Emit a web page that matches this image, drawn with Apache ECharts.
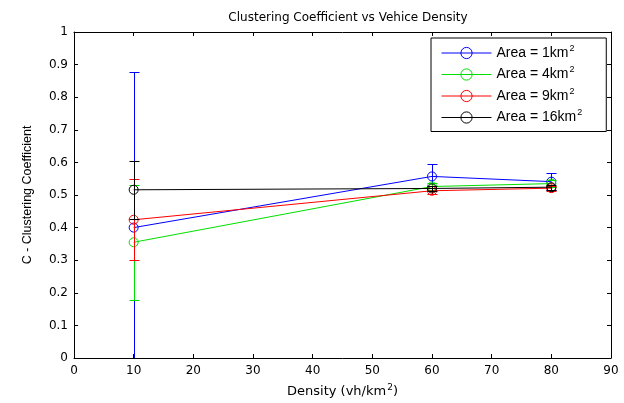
<!DOCTYPE html>
<html><head><meta charset="utf-8">
<script src="https://cdn.jsdelivr.net/npm/echarts@6/dist/echarts.min.js"></script>
<style>html,body{margin:0;padding:0;background:#fff}#c{width:624px;height:403px}</style>
</head><body><div id="c"></div>
<script>
const density = [10, 60, 80];
const area1 = [0.400, 0.557, 0.541];
const area4 = [0.355, 0.526, 0.535];
const area9 = [0.424, 0.513, 0.521];
const area16 = [0.516, 0.520, 0.524];
const err1 = [0.478, 0.037, 0.025];
const err4 = [0.177, 0.010, 0.010];
const err9 = [0.124, 0.010, 0.008];
const err16 = [0.089, 0.008, 0.008];
const names = ['Area = 1km{sup|2}', 'Area = 4km{sup|2}', 'Area = 9km{sup|2}', 'Area = 16km{sup|2}'];
const colors = ['#0000ff', '#00e000', '#ff0000', '#000000'];
const yTicks = [0, 0.1, 0.2, 0.3, 0.4, 0.5, 0.6, 0.7, 0.8, 0.9, 1];
const xTicks = [0, 10, 20, 30, 40, 50, 60, 70, 80, 90];

const vals = [area1, area4, area9, area16];
const errs = [err1, err4, err9, err16];
const font = 'Liberation Sans, Arial, sans-serif';
const wfont = 'DejaVu Sans, sans-serif';

const series = [];
vals.forEach((v, i) => {
  series.push({
    type: 'custom', name: names[i] + '_err', silent: true, clip: true, z: 2 + i,
    renderItem: function (params, api) {
      const x = api.value(0), lo = api.value(1), hi = api.value(2);
      const p1 = api.coord([x, hi]), p2 = api.coord([x, lo]);
      const px = Math.round(p1[0]) + 0.5;
      const y1 = Math.round(p1[1]) + 0.5, y2 = Math.round(p2[1]) + 0.5;
      const c = 5;
      const st = { stroke: colors[i], lineWidth: 1, fill: null };
      return { type: 'group', children: [
        { type: 'line', shape: { x1: px, y1: y1, x2: px, y2: y2 }, style: st },
        { type: 'line', shape: { x1: px - c, y1: y1, x2: px + c, y2: y1 }, style: st },
        { type: 'line', shape: { x1: px - c, y1: y2, x2: px + c, y2: y2 }, style: st }
      ]};
    },
    data: density.map((d, k) => [d, v[k] - errs[i][k], v[k] + errs[i][k]])
  });
  series.push({
    type: 'line', name: names[i], z: 2 + i,
    data: density.map((d, k) => [d, v[k]]),
    symbol: 'circle', symbolSize: 9,
    lineStyle: { color: colors[i], width: 1 },
    itemStyle: { color: 'rgba(255,255,255,0)', borderColor: colors[i], borderWidth: 1 },
    emphasis: { disabled: true }, animation: false
  });
});

const axisBase = {
  axisLine: { show: true, onZero: false, lineStyle: { color: '#000', width: 1 } },
  axisTick: { show: true, inside: true, length: 4, lineStyle: { color: '#000' } },
  splitLine: { show: false }
};

const chart = echarts.init(document.getElementById('c'), null, { renderer: 'canvas' });
chart.setOption({
  animation: false,
  backgroundColor: '#fff',
  title: { text: 'Clustering Coefficient vs Vehice Density', left: 343, textAlign: 'center', top: 7,
    textStyle: { fontFamily: wfont, fontSize: 12, fontWeight: 'normal', color: '#000' } },
  grid: { left: 74, right: 13, top: 32, bottom: 40 },
  legend: {
    data: names, orient: 'vertical', left: 431, top: 38,
    padding: [6, 24, 7, 10], itemGap: 5.5, itemWidth: 50, itemHeight: 14,
    backgroundColor: '#fff', borderColor: '#000', borderWidth: 1,
    lineStyle: { width: 1 },
    itemStyle: { borderWidth: 1 },
    textStyle: { fontFamily: font, fontSize: 14, color: '#000',
      rich: { sup: { fontSize: 9, padding: [0, 0, 9, 1], fontFamily: font, color: '#000' } } }
  },
  xAxis: [
    Object.assign({ type: 'value', min: 0, max: 90, interval: 10, position: 'bottom',
      name: 'Density (vh/km{sup|2})', nameLocation: 'middle', nameGap: 25,
      nameTextStyle: { fontFamily: wfont, fontSize: 13, color: '#000',
        rich: { sup: { fontSize: 9, padding: [0, 0, 8, 1], fontFamily: wfont, color: '#000' } } },
      axisLabel: { fontFamily: wfont, fontSize: 12, color: '#000', margin: 7,
        formatter: v => xTicks.includes(v) ? String(v) : '' } }, axisBase),
    Object.assign({ type: 'value', min: 0, max: 90, interval: 10, position: 'top',
      axisLabel: { show: false } }, axisBase)
  ],
  yAxis: [
    Object.assign({ type: 'value', min: 0, max: 1, interval: 0.1, position: 'left',
      name: 'C - Clustering Coefficient', nameLocation: 'middle', nameGap: 40,
      nameTextStyle: { fontFamily: font, fontSize: 12.5, color: '#000' },
      axisLabel: { fontFamily: wfont, fontSize: 12, color: '#000', margin: 6,
        formatter: v => { const t = yTicks.find(y => Math.abs(y - v) < 1e-9); return t === undefined ? '' : String(t); } } }, axisBase),
    Object.assign({ type: 'value', min: 0, max: 1, interval: 0.1, position: 'right',
      axisLabel: { show: false } }, axisBase)
  ],
  series: series
});
</script></body></html>
